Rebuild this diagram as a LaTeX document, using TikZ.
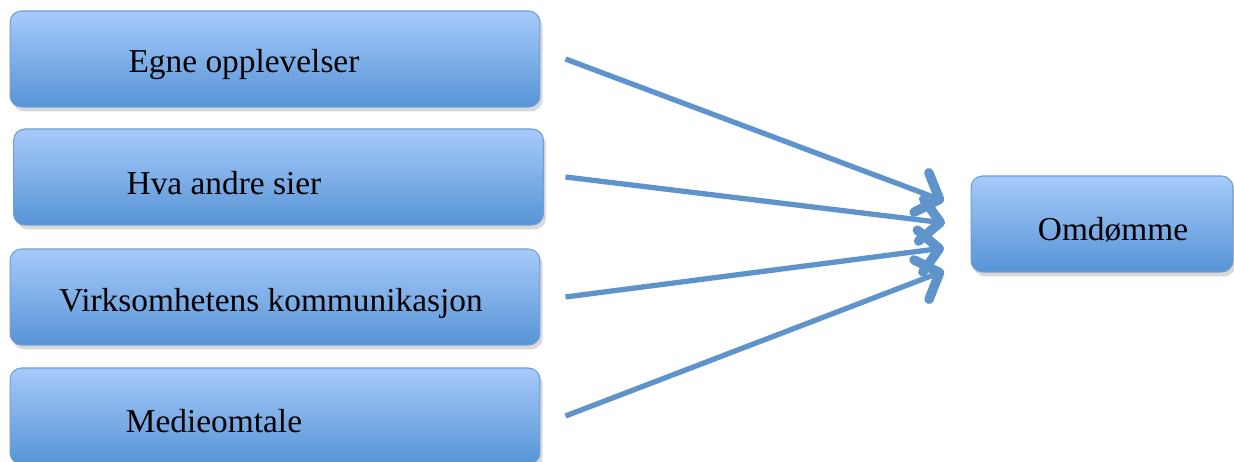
\documentclass[tikz,border=0pt]{standalone}
\usepackage{fontspec}
\setmainfont{Liberation Serif}
\usetikzlibrary{arrows.meta, shadows}

\definecolor{boxtop}{HTML}{A7CAFA}
\definecolor{boxbottom}{HTML}{5794D6}
\definecolor{boxline}{HTML}{6E9ED5}
\definecolor{arrowblue}{HTML}{5E93CB}

\begin{document}
\begin{tikzpicture}[x=0.02cm, y=0.02cm,
    box/.style={rectangle, rounded corners=6.5pt, draw=boxline, line width=0.6pt,
      top color=boxtop, bottom color=boxbottom,
      minimum width=10.6cm, minimum height=1.92cm,
      drop shadow={shadow xshift=1.5pt, shadow yshift=-2.5pt, opacity=0.25, fill=black!60}},
    boxtext/.style={font=\fontsize{19}{22}\selectfont, inner sep=0pt},
    link/.style={draw=arrowblue, line width=3pt,
      -{Straight Barb[length=11pt, width=24pt, line width=0pt 1.8, round]}}]

      \useasboundingbox (0,0) rectangle (1234,462);

      % The four boxes on the left, top to bottom.
      \node[box] (egne) at (275,403) {};
      \node[box] (andre) at (278.5,285) {};
      \node[box] (virk) at (275,165) {};
      \node[box] (medie) at (275,46) {};

      % The box on the right.
      \node[box, minimum width=5.24cm] (omd) at (1102,238) {};

      % Texts, set a little left of and below the box centres as in the original.
      \node[boxtext] (egne text) at (244,397) {Egne opplevelser};
      \node[boxtext] (andre text) at (224,279) {Hva andre sier};
      \node[boxtext] (virk text) at (271,159) {Virksomhetens kommunikasjon};
      \node[boxtext] (medie text) at (214,41) {Medieomtale};
      \node[boxtext] (omd text) at (1113,232) {Omdømme};

      % Where the arrows start and end.
      \coordinate (s1) at ([xshift=0.5cm]egne.east);
      \coordinate (s2) at ([xshift=0.43cm]andre.east);
      \coordinate (s3) at ([xshift=0.5cm]virk.east);
      \coordinate (s4) at ([xshift=0.5cm]medie.east);
      \coordinate (t1) at (944,261);
      \coordinate (t2) at (945,239);
      \coordinate (t3) at (944,214);
      \coordinate (t4) at (944,191);

      % Draw the arrows.
      \draw[link] (s1) -- (t1);
      \draw[link] (s2) -- (t2);
      \draw[link] (s3) -- (t3);
      \draw[link] (s4) -- (t4);
    \end{tikzpicture}
\end{document}
